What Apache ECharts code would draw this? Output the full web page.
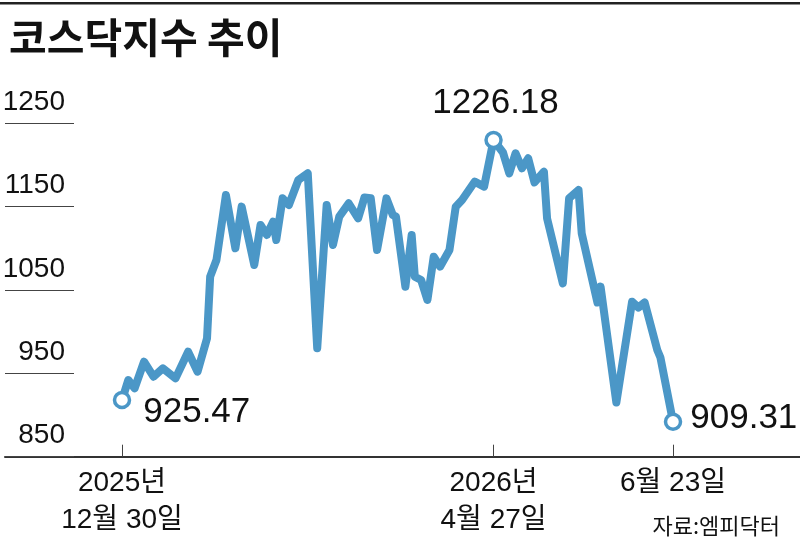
<!DOCTYPE html>
<html>
<head>
<meta charset="utf-8">
<title>코스닥지수 추이</title>
<script src="https://cdn.jsdelivr.net/npm/echarts@6/dist/echarts.min.js"></script>
<style>
  html, body { margin: 0; padding: 0; background: #fff; }
  #chart { width: 800px; height: 548px; }
</style>
</head>
<body>
<div id="chart"></div>
<script>
// 코스닥지수
var dates = [
  '2025-12-30', '2026-01-01', '2026-01-03', '2026-01-06', '2026-01-09', '2026-01-12',
  '2026-01-16', '2026-01-20', '2026-01-23', '2026-01-26', '2026-01-27', '2026-01-29',
  '2026-02-01', '2026-02-04', '2026-02-06', '2026-02-10', '2026-02-12', '2026-02-14',
  '2026-02-16', '2026-02-17', '2026-02-19', '2026-02-21', '2026-02-24', '2026-02-27',
  '2026-03-02', '2026-03-05', '2026-03-07', '2026-03-09', '2026-03-12', '2026-03-15',
  '2026-03-17', '2026-03-19', '2026-03-21', '2026-03-24', '2026-03-26', '2026-03-27',
  '2026-03-30', '2026-04-01', '2026-04-02', '2026-04-04', '2026-04-06', '2026-04-08',
  '2026-04-10', '2026-04-13', '2026-04-15', '2026-04-17', '2026-04-21', '2026-04-24',
  '2026-04-27', '2026-04-30', '2026-05-02', '2026-05-04', '2026-05-06', '2026-05-08',
  '2026-05-10', '2026-05-13', '2026-05-14', '2026-05-19', '2026-05-21', '2026-05-24',
  '2026-05-25', '2026-05-30', '2026-05-31', '2026-06-05', '2026-06-10', '2026-06-12',
  '2026-06-14', '2026-06-18', '2026-06-19', '2026-06-23'
];
var values = [
  918, 942, 932, 964, 946, 956,
  944, 976, 952, 992, 1066, 1086,
  1164, 1100, 1150, 1080, 1128, 1116,
  1132, 1110, 1160, 1152, 1182, 1190,
  980, 1152, 1104, 1138, 1154, 1136,
  1161, 1160, 1098, 1160, 1140, 1138,
  1054, 1116, 1066, 1062, 1038, 1090,
  1078, 1098, 1150, 1158, 1180, 1174,
  1230, 1215, 1190, 1214, 1196, 1208,
  1179, 1192, 1136, 1058, 1160, 1170,
  1118, 1035, 1054, 915, 1036, 1029,
  1035, 978, 969, 892
];

var markDates = ['2025-12-30', '2026-04-27', '2026-06-23'];
var markTexts = ['925.47', '1226.18', '909.31'];

var tickDates = ['2025-12-30', '2026-04-27', '2026-06-23'];
var tickTexts = ['2025년\n12월 30일', '2026년\n4월 27일', '6월 23일'];

var numFont = "'Liberation Sans', Arial, sans-serif";
var krFont = "'Liberation Sans', 'Noto Sans CJK KR', sans-serif";
var blue = '#4b97c7';
var dayMs = 24 * 3600 * 1000;
var t0 = Date.UTC(2025, 11, 30);

// days since 2025-12-30
function day(s) {
  var p = s.split('-');
  return Math.round((Date.UTC(+p[0], +p[1] - 1, +p[2]) - t0) / dayMs);
}

var tickDays = tickDates.map(day);

// label placement for the three marked points
var markLabelStyle = [
  {position: 'right', distance: 12, offset: [0, 12]},
  {position: 'top', distance: 10, offset: [2, 0]},
  {position: 'right', distance: 8, offset: [0, -3]}
];

var lineData = dates.map(function (d, i) {
  return [day(d), values[i]];
});

var markData = markDates.map(function (d, i) {
  var st = markLabelStyle[i];
  return {
    value: [day(d), values[dates.indexOf(d)]],
    label: {position: st.position, distance: st.distance, offset: st.offset}
  };
});

var option = {
  backgroundColor: '#fff',
  animation: false,
  grid: {left: 5, right: 0, top: 123.3, bottom: 91.3, containLabel: false, outerBoundsMode: 'none'},
  graphic: [
    {type: 'rect', left: 0, top: 2, shape: {width: 800, height: 2.5}, style: {fill: '#222'}},
    {
      type: 'text', left: 9, top: 17,
      style: {text: '코스닥지수 추이', font: "bold 41px 'Noto Sans CJK KR'", fill: '#111'}
    },
    {
      type: 'text', right: 20, top: 515,
      style: {text: '자료:엠피닥터', font: "22px 'Noto Sans CJK KR'", fill: '#111'}
    }
  ],
  xAxis: {
    type: 'value',
    min: -37.16,
    max: 215.33,
    axisLine: {onZero: false, lineStyle: {color: '#333', width: 2}},
    axisTick: {
      show: true, inside: true, length: 12, customValues: tickDays,
      lineStyle: {color: '#444', width: 1}
    },
    axisLabel: {
      customValues: tickDays,
      margin: 8,
      fontFamily: krFont,
      fontSize: 28,
      lineHeight: 37,
      color: '#111',
      formatter: function (v) {
        var i = tickDays.indexOf(v);
        return i < 0 ? '' : tickTexts[i];
      }
    },
    splitLine: {show: false}
  },
  yAxis: {
    type: 'value',
    min: 850,
    max: 1250,
    interval: 100,
    axisLine: {show: false, onZero: false},
    axisTick: {show: true, inside: true, length: 69, lineStyle: {color: '#444', width: 1}},
    axisLabel: {
      inside: true,
      align: 'right',
      margin: 60,
      fontFamily: numFont, fontSize: 28, color: '#111',
      verticalAlign: 'bottom', padding: [0, 0, 7, 0],
      formatter: function (v) {
        return String(v);
      }
    },
    splitLine: {show: false}
  },
  series: [{
    type: 'line',
    data: lineData,
    showSymbol: false,
    lineStyle: {color: blue, width: 8, join: 'round', cap: 'round'},
    z: 2
  }, {
    type: 'scatter',
    data: markData,
    symbol: 'circle',
    symbolSize: 15,
    itemStyle: {color: '#fff', borderColor: blue, borderWidth: 3.5, opacity: 1},
    label: {
      show: true,
      fontFamily: numFont,
      fontSize: 35,
      color: '#111',
      formatter: function (p) {
        return markTexts[p.dataIndex];
      }
    },
    z: 3
  }]
};

var chart = echarts.init(document.getElementById('chart'));
chart.setOption(option);
</script>
</body>
</html>
